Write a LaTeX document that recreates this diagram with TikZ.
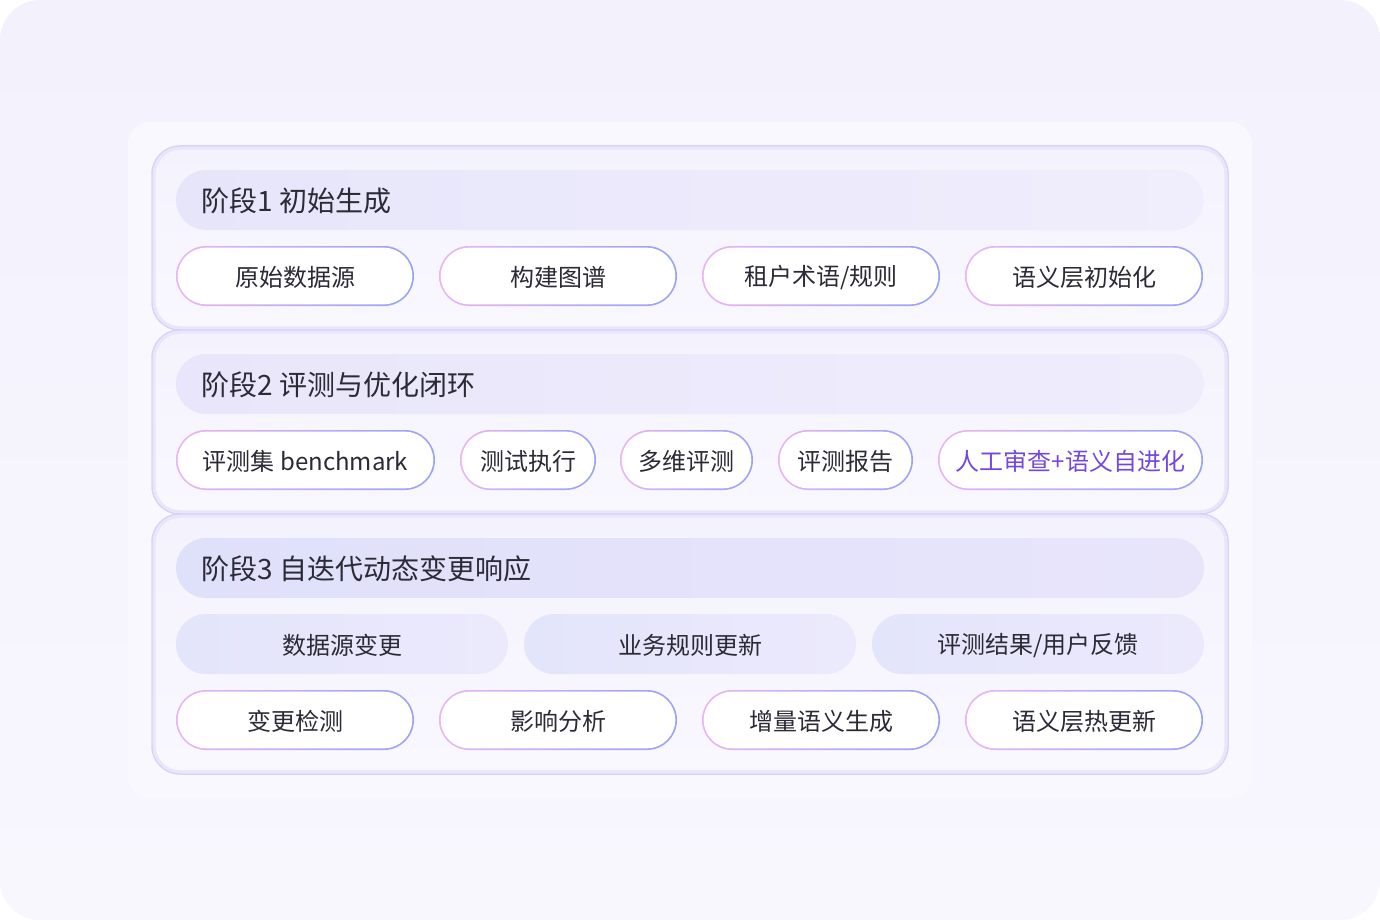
\documentclass[tikz,border=0pt]{standalone}
\usepackage{fontspec}
\setmainfont{Noto Sans CJK SC}
\definecolor{bgtop}{HTML}{F3F1FC}
\definecolor{bgbot}{HTML}{F8F7FE}
\definecolor{cardc}{HTML}{F9F8FF}
\definecolor{pantop}{HTML}{F4F3FD}
\definecolor{panbot}{HTML}{F9F8FF}
\definecolor{panedge}{HTML}{D6D2F8}
\definecolor{panglow}{HTML}{E9E6FB}
\definecolor{pinkc}{HTML}{E9B6F3}
\definecolor{bluec}{HTML}{98A2F5}
\definecolor{txt}{HTML}{2B2A36}
\definecolor{purp}{HTML}{7448E0}
\definecolor{hAl}{HTML}{E7E5FA}
\definecolor{hAr}{HTML}{F0EEFC}
\definecolor{hBl}{HTML}{E9E6FB}
\definecolor{hBr}{HTML}{EFEDFC}
\definecolor{hCl}{HTML}{DFE0FA}
\definecolor{hCr}{HTML}{E8E5FB}
\definecolor{fpl}{HTML}{E3E5FB}
\definecolor{fpr}{HTML}{ECE9FC}
\tikzset{
  panelbox/.style={rounded corners=28pt, top color=pantop, bottom color=panbot, draw=panedge, line width=1.5pt},
  headbar/.style={rectangle, rounded corners=30pt, minimum height=60pt, minimum width=1028pt, inner sep=0pt, outer sep=0pt},
  headtext/.style={anchor=west, text=txt, font=\fontsize{28}{32}\selectfont, inner sep=0pt},
  gborder/.style={rectangle, rounded corners=30pt, minimum height=60pt, inner sep=0pt, outer sep=0pt, left color=pinkc, right color=bluec},
  ginner/.style={rectangle, rounded corners=28.3pt, minimum height=56.6pt, inner sep=0pt, outer sep=0pt, fill=white},
  pilltext/.style={text=txt, font=\fontsize{24}{28}\selectfont, inner sep=0pt, yshift=-1.5pt},
  fpill/.style={rectangle, rounded corners=30pt, minimum height=60pt, inner sep=0pt, outer sep=0pt, left color=fpl, right color=fpr},
}
\newcommand\gpill[5]{%
  \node[gborder, minimum width=#4pt] (#1b) at (#2,#3) {};
  \node[ginner, minimum width=#4pt-3.4pt] (#1) at (#2,#3) {};
  \node[pilltext] (#1t) at (#1) {#5};
}
\begin{document}
\begin{tikzpicture}[x=1pt,y=-1pt]
\useasboundingbox (0,0) rectangle (1380,920);
\fill[white] (0,0) rectangle (1380,920);
\shade[rounded corners=40pt, top color=bgtop, bottom color=bgbot] (0,0) rectangle (1380,920);
\fill[cardc, rounded corners=22pt] (128,122) rectangle (1252,798);

% panels
\foreach \ya/\yb in {146/330, 330/514, 514/774}{
  \draw[panelbox] (152,\ya) rectangle (1228,\yb);
  \draw[panglow, line width=3pt, rounded corners=26pt] (154.2,\ya+2.2) rectangle (1225.8,\yb-2.2);
}

% stage 1
\node[headbar, left color=hAl, right color=hAr] (h1) at (690,200) {};
\node[headtext] (t1) at (201,201) {阶段1 初始生成};
\gpill{a1}{295}{276}{238}{原始数据源}
\gpill{a2}{558}{276}{238}{构建图谱}
\gpill{a3}{821}{276}{238}{租户术语/规则}
\gpill{a4}{1084}{276}{238}{语义层初始化}

% stage 2
\node[headbar, left color=hBl, right color=hBr] (h2) at (690,384) {};
\node[headtext] (t2) at (201,385) {阶段2 评测与优化闭环};
\gpill{b1}{305.5}{460}{259}{评测集 benchmark}
\gpill{b2}{528}{460}{136}{测试执行}
\gpill{b3}{686.5}{460}{133}{多维评测}
\gpill{b4}{845.5}{460}{135}{评测报告}
\gpill{b5}{1070.5}{460}{265}{\textcolor{purp}{人工审查+语义自进化}}

% stage 3
\node[headbar, left color=hCl, right color=hCr] (h3) at (690,568) {};
\node[headtext] (t3) at (201,569) {阶段3 自迭代动态变更响应};
\node[fpill, minimum width=332pt] (c1) at (342,644) {};
\node[pilltext] (c1t) at (c1) {数据源变更};
\node[fpill, minimum width=332pt] (c2) at (690,644) {};
\node[pilltext] (c2t) at (c2) {业务规则更新};
\node[fpill, minimum width=332pt] (c3) at (1038,644) {};
\node[pilltext] (c3t) at (c3) {评测结果/用户反馈};
\gpill{d1}{295}{720}{238}{变更检测}
\gpill{d2}{558}{720}{238}{影响分析}
\gpill{d3}{821}{720}{238}{增量语义生成}
\gpill{d4}{1084}{720}{238}{语义层热更新}
\end{tikzpicture}
\end{document}
